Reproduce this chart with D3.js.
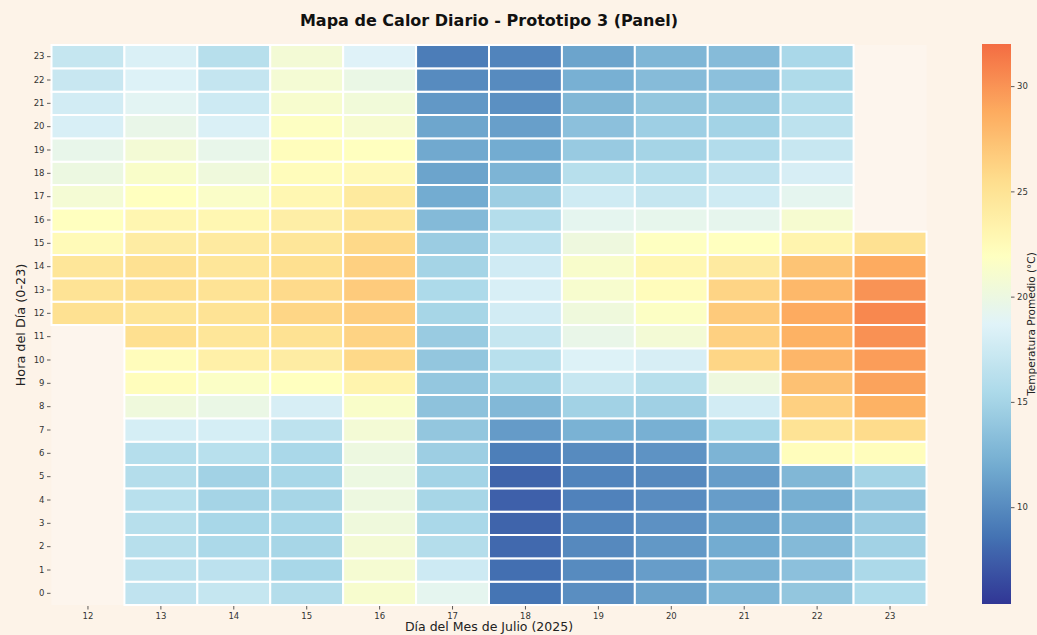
<!DOCTYPE html>
<html>
<head>
<meta charset="utf-8">
<script src="https://cdn.jsdelivr.net/npm/d3@7"></script>
<style>
  html, body { margin: 0; padding: 0; background: #fdf3e8; }
  svg { display: block; font-family: "DejaVu Sans", sans-serif; }
</style>
</head>
<body>
<svg id="chart" width="1037" height="635"></svg>
<script>
// ---- Data ----
const days = [12, 13, 14, 15, 16, 17, 18, 19, 20, 21, 22, 23];
const hours = d3.range(0, 24);
const colorbarTicks = [10, 15, 20, 25, 30];
const colorDomain = [5.4, 32.0];

// temperatures per day, hour 0 -> 23 (null = sin datos)
const temps12 = [null,null,null,null,null,null,null,null,null,null,null,null,25.2,25.0,24.7,22.5,22.0,20.8,20.0,19.5,18.2,17.8,17.2,17.0];
const temps13 = [16.7,16.5,16.1,16.1,16.2,15.9,16.0,18.0,20.3,22.2,22.3,25.3,24.8,25.3,25.2,24.0,23.0,22.0,21.4,20.7,19.6,19.0,18.5,18.3];
const temps14 = [17.0,16.4,15.4,15.2,15.0,14.8,16.2,18.0,19.8,21.6,23.6,24.7,25.0,25.0,24.7,24.2,22.9,21.5,20.3,19.5,18.3,17.5,16.9,16.1];
const temps15 = [15.9,15.2,15.1,15.2,15.1,15.2,15.3,16.5,18.1,22.0,24.0,25.1,26.0,25.7,25.3,24.7,23.8,22.9,22.3,22.2,21.8,21.1,20.8,20.7];
const temps16 = [21.1,20.9,20.7,20.3,20.1,20.0,20.1,20.7,21.4,23.2,25.8,26.2,26.5,26.7,26.4,25.8,24.7,24.3,22.6,22.0,21.0,20.5,19.8,18.6];
const temps17 = [19.2,17.5,15.9,15.3,15.1,14.9,14.5,13.9,13.6,14.0,13.9,14.3,15.1,15.5,15.0,14.4,13.0,12.0,11.5,11.8,11.6,10.8,10.0,9.2];
const temps18 = [8.7,8.4,8.1,7.8,7.6,7.8,9.3,11.0,12.9,15.0,16.2,17.0,17.8,18.2,17.7,16.6,15.9,14.5,12.6,12.0,11.2,10.3,10.0,9.6];
const temps19 = [10.2,10.0,9.9,9.7,9.5,9.6,10.0,12.4,14.8,17.1,18.5,19.6,20.3,21.1,21.3,20.2,19.2,17.6,16.1,14.2,13.5,12.8,12.3,11.5];
const temps20 = [11.4,11.1,10.8,10.4,10.1,9.9,10.5,12.3,14.7,16.1,18.1,20.7,21.7,22.3,22.9,21.9,19.4,17.0,16.0,15.0,14.6,13.9,13.1,12.7];
const temps21 = [12.7,12.5,12.0,11.5,11.1,11.1,12.6,15.2,17.8,20.2,26.0,26.4,26.8,26.1,24.2,22.0,19.3,17.6,16.7,15.8,14.9,14.3,13.5,13.1];
const temps22 = [13.9,13.5,13.0,12.6,12.2,12.8,22.2,25.0,26.4,27.4,28.1,28.4,28.8,28.0,27.2,23.2,21.0,19.2,18.1,17.1,16.5,16.0,15.6,15.3];
const temps23 = [15.7,15.4,14.8,14.4,14.0,15.0,22.2,25.6,28.4,29.2,29.5,30.1,30.6,30.0,28.8,25.2,null,null,null,null,null,null,null,null];

const tempsByDay = [temps12, temps13, temps14, temps15, temps16, temps17, temps18, temps19, temps20, temps21, temps22, temps23];

// ---- Colour map (RdYlBu reversed, trimmed around a centre) ----
const palette = ["#313695","#4575b4","#74add1","#abd9e9","#e0f3f8","#ffffbf","#fee090","#fdae61","#f46d43","#d73027","#a50026"];
const cmCenter = 22.0, cmRange = 16.6;
const stopVals = palette.map((_, i) => cmCenter - cmRange + i * (2 * cmRange / (palette.length - 1)));
const color = d3.scaleLinear().domain(stopVals).range(palette).interpolate(d3.interpolateRgb).clamp(true);

// ---- Layout ----
const svg = d3.select("#chart");
const plot = { left: 51.5, right: 926.5, top: 45, bottom: 605 };
const x = d3.scaleBand().domain(days).range([plot.left, plot.right]).padding(0);
const y = d3.scaleBand().domain(hours.slice().reverse()).range([plot.top, plot.bottom]).padding(0);

// plot background (slightly lighter than the figure)
svg.append("rect").attr("x", plot.left).attr("y", plot.top)
  .attr("width", plot.right - plot.left).attr("height", plot.bottom - plot.top)
  .attr("fill", "#fdf5ed");

const cells = [];
days.forEach((d, i) => hours.forEach(h => {
  const v = tempsByDay[i][h];
  if (v !== null) cells.push({ day: d, hour: h, value: v });
}));

svg.append("g").selectAll("rect").data(cells).join("rect")
  .attr("x", d => x(d.day))
  .attr("y", d => y(d.hour))
  .attr("width", x.bandwidth())
  .attr("height", y.bandwidth())
  .attr("fill", d => color(d.value))
  .attr("stroke", "#ffffff")
  .attr("stroke-width", 2);

// Axes
const tickColor = "#333";
const xAxis = svg.append("g").attr("transform", `translate(0,${plot.bottom + 1})`)
  .call(d3.axisBottom(x).tickSize(3.5).tickPadding(3.5));
const yAxis = svg.append("g").attr("transform", `translate(${plot.left - 1},0)`)
  .call(d3.axisLeft(y).tickSize(3.5).tickPadding(2.5));
[xAxis, yAxis].forEach(a => {
  a.select(".domain").remove();
  a.selectAll("text").attr("font-size", 8.5).attr("fill", tickColor).attr("font-family", "DejaVu Sans");
  a.selectAll("line").attr("stroke", tickColor).attr("stroke-width", 0.8);
});

// Title & labels
svg.append("text").attr("x", (plot.left + plot.right) / 2).attr("y", 26)
  .attr("text-anchor", "middle").attr("font-size", 16).attr("font-weight", "bold").attr("fill", "#111")
  .text("Mapa de Calor Diario - Prototipo 3 (Panel)");
svg.append("text").attr("x", (plot.left + plot.right) / 2).attr("y", 631)
  .attr("text-anchor", "middle").attr("font-size", 12.5).attr("fill", "#222")
  .text("Día del Mes de Julio (2025)");
svg.append("text").attr("transform", `translate(25,${(plot.top + plot.bottom) / 2}) rotate(-90)`)
  .attr("text-anchor", "middle").attr("font-size", 12.8).attr("fill", "#222")
  .text("Hora del Día (0-23)");

// Colorbar
const cb = { x: 982, w: 29, top: 44, bottom: 604 };
const cbScale = d3.scaleLinear().domain(colorDomain).range([cb.bottom, cb.top]);
const defs = svg.append("defs");
const grad = defs.append("linearGradient").attr("id", "cbgrad")
  .attr("x1", 0).attr("y1", 1).attr("x2", 0).attr("y2", 0);
d3.range(0, 1.0001, 0.02).forEach(t => {
  const v = colorDomain[0] + t * (colorDomain[1] - colorDomain[0]);
  grad.append("stop").attr("offset", t).attr("stop-color", color(v));
});
svg.append("rect").attr("x", cb.x).attr("y", cb.top).attr("width", cb.w).attr("height", cb.bottom - cb.top)
  .attr("fill", "url(#cbgrad)");
const cbAxis = svg.append("g").attr("transform", `translate(${cb.x + cb.w},0)`)
  .call(d3.axisRight(cbScale).tickValues(colorbarTicks).tickSize(3.5).tickPadding(2.5));
cbAxis.select(".domain").remove();
cbAxis.selectAll("text").attr("font-size", 8.5).attr("fill", tickColor).attr("font-family", "DejaVu Sans");
cbAxis.selectAll("line").attr("stroke", tickColor).attr("stroke-width", 0.8);
svg.append("text").attr("transform", `translate(1034.5,${(cb.top + cb.bottom) / 2}) rotate(-90)`)
  .attr("text-anchor", "middle").attr("font-size", 10.5).attr("fill", "#222")
  .text("Temperatura Promedio (°C)");
</script>
</body>
</html>
